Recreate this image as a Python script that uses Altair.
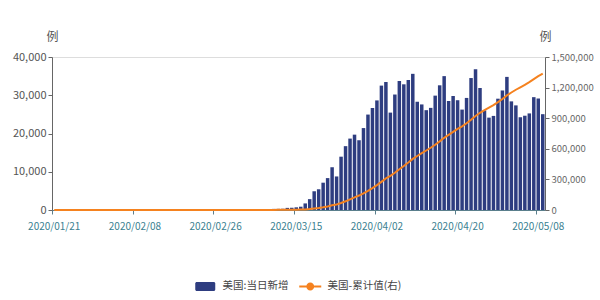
import altair as alt
import pandas as pd

FONT = "Noto Sans CJK SC"

# Categories: one bar per day, 2020/01/21 .. 2020/05/09
dates = pd.date_range("2020-01-21", "2020-05-09").strftime("%Y/%m/%d").tolist()

# Daily new cases
new_jan = [1, 0, 0, 1, 0, 3, 0, 0, 0, 1, 1]
new_feb = [1, 1, 0, 0, 1, 0, 0, 0, 0, 1, 0, 0, 1, 0, 0, 0, 0, 0, 0, 0,
           2, 0, 0, 0, 1, 0, 1, 2, 6]
new_mar_early = [8, 24, 24, 34, 63, 98, 116, 106, 163, 290, 307, 329, 553, 587, 700]
new_main = [860, 1720, 2840, 4900, 5420, 7140, 8340, 11180, 8770, 13940,
            16690, 18670, 19700, 18240, 21420, 24950, 26670, 28650, 32520, 33460,
            25460, 30190, 33720, 32860, 33980, 35600, 28300, 27600, 26100, 26700,
            29900, 32600, 35000, 28500, 29800, 28700, 26250, 29300, 34500, 36800,
            31900, 26050, 24150, 24600, 29100, 31250, 34800, 28400, 27350, 24250,
            24650, 25250, 29500, 29150, 25050]
daily_new = new_jan + new_feb + new_mar_early + new_main

tick_labels = ["2020/01/21", "2020/02/08", "2020/02/26", "2020/03/15",
               "2020/04/02", "2020/04/20", "2020/05/08"]
left_ticks = [0, 10000, 20000, 30000, 40000]
right_ticks = [0, 300000, 600000, 900000, 1200000, 1500000]

series_names = ["美国:当日新增", "美国-累计值(右)"]
series_colors = ["#2e3d80", "#f5821f"]
series_shapes = [
    "M-1.7,-0.9 L1.7,-0.9 A0.3,0.3 0 0 1 2,-0.6 L2,0.6 A0.3,0.3 0 0 1 1.7,0.9 "
    "L-1.7,0.9 A0.3,0.3 0 0 1 -2,0.6 L-2,-0.6 A0.3,0.3 0 0 1 -1.7,-0.9 Z",
    "M-2.2,-0.2 L-0.78,-0.2 L-0.78,0.2 L-2.2,0.2 Z "
    "M0.78,-0.2 L2.2,-0.2 L2.2,0.2 L0.78,0.2 Z "
    "M0.8,0 A0.8,0.8 0 1 1 -0.8,0 A0.8,0.8 0 1 1 0.8,0 Z",
]

df = pd.DataFrame({"date": dates, "idx": list(range(len(dates))), "new": daily_new})

x_enc = alt.X(
    "date:O",
    title=None,
    scale=alt.Scale(domain=dates, paddingInner=0.22, paddingOuter=0.11),
    axis=alt.Axis(values=tick_labels, labelAngle=0, bandPosition=0,
                  labelColor="#3b7f91", labelFont=FONT, labelFontSize=10,
                  domainColor="#5a7f8c", tickColor="#5a7f8c", tickSize=4,
                  labelPadding=7, grid=False),
)

bars = alt.Chart(df).mark_bar(color=series_colors[0]).encode(
    x=x_enc,
    y=alt.Y("new:Q", scale=alt.Scale(domain=[0, 40000], nice=False),
            axis=alt.Axis(values=left_ticks, format=",.0f", title="例", titleAngle=0,
                          titleAlign="center", titleBaseline="middle", titleX=0, titleY=-21,
                          titleFont=FONT, titleFontSize=12, titleFontWeight="normal",
                          titleColor="#555", labelColor="#555", labelFont=FONT,
                          labelFontSize=11, domainColor="#666", tickColor="#666",
                          tickSize=4, labelPadding=2, grid=False)),
)

line = alt.Chart(df).transform_window(
    cum="sum(new)", sort=[alt.SortField("idx")], frame=[None, 0]
).mark_line(color=series_colors[1], strokeWidth=2).encode(
    x=x_enc,
    y=alt.Y("cum:Q", scale=alt.Scale(domain=[0, 1500000], nice=False),
            axis=alt.Axis(orient="right", values=right_ticks, format=",.0f", title="例",
                          titleAngle=0, titleAlign="center", titleBaseline="middle",
                          titleX=0, titleY=-21, titleFont=FONT, titleFontSize=12,
                          titleFontWeight="normal", titleColor="#555", labelColor="#666",
                          labelFont=FONT, labelFontSize=9.5, domainColor="#666",
                          tickColor="#666", tickSize=4, labelPadding=2, grid=False)),
)

legend_def = alt.Legend(title=None, orient="none", legendX=148, legendY=224,
                        direction="horizontal", symbolSize=100, labelFont=FONT,
                        labelFontSize=10.5, labelColor="#444", labelOffset=12,
                        columnPadding=10, symbolStrokeWidth=0, padding=0)

legend_df = pd.DataFrame({"series": series_names})
leg = alt.Chart(legend_df).transform_filter("false").mark_point(
    filled=True, opacity=1, size=100
).encode(
    color=alt.Color("series:N", scale=alt.Scale(domain=series_names, range=series_colors),
                    legend=legend_def),
    shape=alt.Shape("series:N", scale=alt.Scale(domain=series_names, range=series_shapes),
                    legend=legend_def),
)

chart = alt.layer(bars, line, leg).resolve_scale(y="independent").properties(
    width=493, height=153,
    autosize=alt.AutoSizeParams(type="none"),
    padding={"left": 52, "top": 57, "right": 55, "bottom": 90},
).configure_view(stroke=None).configure(font=FONT)

chart.save("out.html", embed_options={"renderer": "svg", "actions": False})
